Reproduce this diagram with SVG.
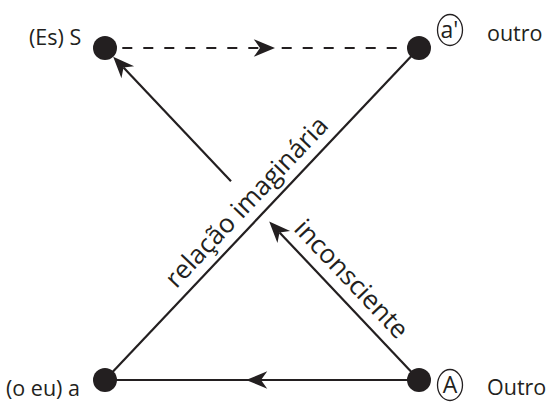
<svg xmlns="http://www.w3.org/2000/svg" width="546" height="413" viewBox="0 0 546 413">
<style>
  .lbl { font-family: "Open Sans", "Noto Sans", sans-serif; font-size: 21.5px; fill: #231f20; }
  .inr { font-family: "Open Sans", "Noto Sans", sans-serif; font-size: 23px; fill: #231f20; }
  .rot { font-family: "Open Sans", "Noto Sans", sans-serif; font-size: 26px; fill: #231f20; }
  .ln { stroke: #231f20; stroke-width: 2.2; fill: none; }
  .dash { stroke-dasharray: 10 11; }
  .dot { fill: #231f20; }
  .ring { fill: none; stroke: #231f20; stroke-width: 1.3; }
</style>
<defs>
  <marker id="ah" markerUnits="userSpaceOnUse" markerWidth="30" markerHeight="30" viewBox="-8 -8 24 16" refX="0" refY="0" orient="auto" overflow="visible">
    <path d="M12,0 L-5,-7 L0,0 L-5,7 Z" fill="#231f20"/>
  </marker>
</defs>
<g id="connectors">
  <path class="ln dash" d="M105,48 L260,48" stroke-dashoffset="3.7" marker-end="url(#ah)"/>
  <path class="ln dash" d="M272,48 L419,48" stroke-dashoffset="11.3"/>
  <path class="ln" d="M105,380 L419,48"/>
  <path class="ln" d="M419,380 L105,380"/>
  <path class="ln" d="M419,380 L261,380" marker-end="url(#ah)"/>
  <path class="ln" d="M419,380 L279.5,232.4" marker-end="url(#ah)"/>
  <path class="ln" d="M231,181.2 L123.5,67.6" marker-end="url(#ah)"/>
</g>
<g id="node-S">
  <circle class="dot" cx="105" cy="48" r="12"/>
  <text class="lbl" x="29" y="45">(Es) S</text>
</g>
<g id="node-a-prime">
  <circle class="dot" cx="419" cy="48" r="12"/>
  <ellipse class="ring" cx="450" cy="30" rx="12.5" ry="15.5"/>
  <text class="inr" x="449.5" y="38" text-anchor="middle">a'</text>
  <text class="lbl" x="487" y="41">outro</text>
</g>
<g id="node-a">
  <circle class="dot" cx="105" cy="380" r="12"/>
  <text class="lbl" x="6" y="396">(o eu) a</text>
</g>
<g id="node-A">
  <circle class="dot" cx="419" cy="380" r="12"/>
  <ellipse class="ring" cx="450" cy="385" rx="12.5" ry="15.5"/>
  <text class="inr" x="450" y="393" text-anchor="middle">A</text>
  <text class="lbl" x="487" y="395">Outro</text>
</g>
<g id="edge-labels">
  <text class="rot" text-anchor="middle" transform="translate(253,208) rotate(-46.6)">relação imaginária</text>
  <text class="rot" text-anchor="middle" transform="translate(345,285) rotate(46.6)">inconsciente</text>
</g>
</svg>
